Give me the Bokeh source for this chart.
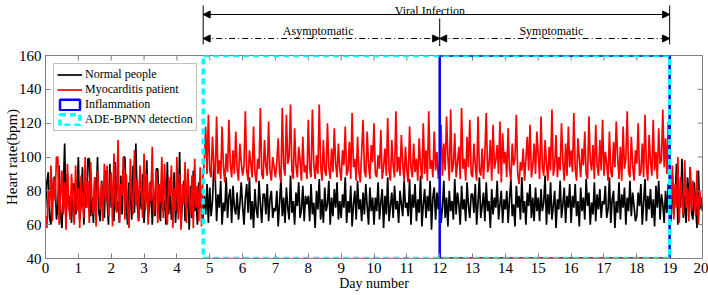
import numpy as np
from bokeh.plotting import figure
from bokeh.layouts import column
from bokeh.models import Range1d, FixedTicker, Arrow, NormalHead
from bokeh.embed import file_html
from bokeh.resources import INLINE
from bokeh.core.properties import value

# ---------------- data (hourly heart rate, bpm) ----------------
SAMPLES_PER_DAY = 24

normal_hr = [
    70, 85, 91, 64, 60, 78, 88, 88, 63, 70, 95, 66, 58, 80, 108, 62, 90, 69, 77, 61, 84, 84, 66, 72,
    100, 63, 72, 94, 60, 81, 70, 99, 99, 65, 76, 61, 88, 73, 100, 67, 62, 86, 71, 64, 92, 75, 60, 96,
    70, 83, 62, 97, 68, 74, 61, 89, 66, 100, 100, 72, 60, 85, 78, 63, 95, 67, 108, 73, 62, 80, 69, 90,
    61, 76, 98, 64, 71, 86, 60, 79, 65, 93, 93, 70, 62, 88, 68, 75, 60, 97, 66, 82, 63, 72, 91, 61,
    78, 67, 103, 59, 74, 86, 62, 71, 80, 57, 83, 64, 92, 68, 75, 60, 85, 70, 82, 63, 77, 66, 84, 61,
    82, 65, 74, 95, 88, 62, 78, 70, 86, 60, 73, 68, 88, 64, 77, 81, 61, 83, 70, 66, 79, 63, 72, 85,
    71, 60, 76, 84, 67, 88, 63, 74, 58, 81, 69, 64, 86, 72, 61, 78, 78, 66, 84, 62, 75, 80, 64, 70,
    68, 80, 59, 73, 87, 65, 76, 61, 82, 70, 63, 89, 67, 74, 60, 79, 71, 85, 64, 69, 83, 62, 77, 72,
    77, 62, 84, 66, 73, 58, 80, 69, 87, 63, 75, 61, 82, 68, 72, 86, 60, 76, 65, 81, 70, 85, 63, 74,
    64, 78, 70, 88, 61, 74, 67, 83, 59, 72, 80, 63, 86, 69, 75, 62, 79, 66, 84, 71, 60, 82, 68, 76,
    60, 76, 68, 85, 63, 73, 81, 58, 77, 66, 88, 62, 71, 79, 64, 83, 69, 74, 61, 80, 72, 65, 86, 70,
    73, 65, 87, 60, 78, 70, 84, 62, 75, 67, 89, 59, 72, 81, 64, 77, 68, 86, 57, 76, 82, 63, 79, 69,
    82, 61, 70, 86, 64, 76, 59, 80, 68, 74, 63, 87, 66, 79, 72, 60, 83, 69, 75, 62, 85, 71, 64, 78,
    78, 67, 84, 60, 73, 88, 64, 71, 79, 62, 85, 68, 74, 58, 81, 66, 76, 70, 86, 63, 72, 80, 61, 75,
    69, 80, 61, 75, 87, 65, 72, 59, 83, 70, 77, 63, 88, 67, 74, 60, 79, 71, 84, 64, 76, 62, 82, 68,
    76, 62, 81, 68, 73, 89, 60, 78, 66, 85, 63, 71, 80, 58, 75, 69, 86, 64, 72, 82, 61, 77, 70, 84,
    61, 77, 70, 84, 65, 74, 59, 82, 68, 76, 63, 87, 71, 79, 60, 73, 66, 85, 62, 78, 69, 81, 64, 74,
    72, 83, 64, 69, 88, 61, 75, 80, 58, 74, 67, 85, 63, 78, 70, 82, 60, 76, 68, 86, 65, 79, 71, 62,
    65, 79, 71, 84, 60, 73, 87, 62, 77, 69, 81, 64, 75, 59, 83, 70, 86, 63, 78, 72, 61, 80, 67, 84,
    84, 62, 90, 66, 75, 96, 60, 80, 70, 99, 64, 77, 61, 88, 73, 94, 67, 63, 85, 70, 58, 92, 69, 76,
    68,
]

patient_hr = [
    65, 58, 80, 70, 95, 62, 88, 74, 100, 100, 60, 77, 92, 66, 85, 57, 96, 71, 63, 90, 76, 60, 95, 68,
    82, 58, 89, 75, 64, 100, 70, 86, 61, 97, 73, 66, 88, 59, 92, 78, 69, 85, 62, 96, 74, 95, 65, 80,
    91, 59, 102, 72, 67, 110, 61, 84, 77, 100, 63, 90, 70, 58, 99, 76, 66, 104, 71, 87, 62, 95, 80, 64,
    102, 69, 90, 60, 85, 74, 106, 66, 79, 92, 61, 84, 73, 100, 64, 96, 70, 60, 88, 77, 95, 58, 82, 68,
    100, 63, 90, 57, 84, 72, 97, 61, 93, 75, 66, 89, 58, 99, 70, 83, 62, 94, 59, 88, 97, 118, 90, 125,
    92, 88, 112, 95, 86, 124, 90, 98, 87, 118, 94, 85, 102, 91, 122, 96, 88, 104, 90, 115, 93, 86, 108, 97,
    89, 95, 127, 92, 86, 104, 96, 88, 118, 91, 85, 99, 93, 129, 90, 87, 110, 95, 89, 121, 92, 86, 100, 94,
    88, 97, 111, 90, 85, 129, 94, 89, 125, 96, 100, 131, 92, 87, 117, 95, 88, 106, 98, 86, 112, 91, 95, 87,
    122, 93, 88, 128, 96, 87, 101, 90, 131, 95, 86, 110, 92, 89, 120, 94, 87, 105, 91, 117, 96, 88, 108, 93,
    86, 104, 95, 118, 89, 92, 109, 87, 126, 94, 99, 86, 112, 91, 85, 103, 122, 92, 88, 115, 96, 87, 107, 97,
    120, 90, 88, 101, 93, 116, 87, 94, 105, 89, 123, 92, 86, 110, 95, 88, 127, 91, 100, 89, 113, 96, 86, 106,
    92, 85, 118, 94, 88, 108, 91, 99, 86, 111, 95, 87, 120, 90, 104, 86, 127, 93, 98, 88, 115, 92, 103, 87,
    96, 119, 89, 108, 92, 124, 100, 86, 128, 91, 95, 114, 88, 97, 106, 87, 129, 93, 99, 86, 112, 94, 122, 90,
    88, 108, 95, 86, 124, 92, 89, 105, 87, 102, 126, 91, 95, 110, 86, 119, 93, 98, 107, 90, 121, 85, 114, 96,
    103, 88, 117, 93, 86, 108, 95, 99, 125, 90, 84, 97, 92, 105, 86, 99, 112, 92, 119, 88, 95, 108, 90, 115,
    101, 87, 124, 94, 89, 110, 96, 86, 106, 92, 128, 89, 95, 113, 88, 100, 92, 120, 97, 86, 108, 89, 118, 94,
    104, 91, 126, 93, 86, 111, 99, 88, 105, 95, 115, 90, 87, 124, 98, 92, 107, 87, 119, 95, 89, 110, 92, 122,
    89, 103, 96, 86, 115, 91, 88, 109, 94, 121, 100, 87, 106, 86, 118, 93, 99, 127, 91, 88, 112, 95, 86, 104,
    96, 120, 89, 91, 108, 88, 125, 95, 86, 113, 97, 89, 122, 92, 103, 87, 117, 96, 98, 128, 94, 111, 90, 121,
    90, 72, 95, 63, 84, 70, 100, 61, 88, 76, 66, 98, 70, 82, 62, 94, 68, 86, 74, 65, 92, 60, 80, 71,
    72,
]

day_ticks = list(range(0, 21))
hr_ticks = [40, 60, 80, 100, 120, 140, 160]
day_min, day_max = 0, 20
hr_min, hr_max = 40, 160

detection_start = 4.8
inflammation_start = 12
inflammation_end = 19

infection_label = "Viral Infection"
phase_labels = ["Asymptomatic", "Symptomatic"]
series_labels = ["Normal people", "Myocarditis patient"]
box_labels = ["Inflammation", "ADE-BPNN detection"]

normal_days = np.arange(len(normal_hr)) / SAMPLES_PER_DAY
patient_days = np.arange(len(patient_hr)) / SAMPLES_PER_DAY

# ---------------- styling ----------------
FONT = "Liberation Serif"
GRAY = "#808080"
W = 708
LEFT = 42
RIGHT = 6
TOP_H = 46
MAIN_H = 295 - TOP_H

# ---------------- annotation strip (above the axes) ----------------
top = figure(width=W, height=TOP_H, x_range=Range1d(day_min, day_max),
             y_range=Range1d(0, TOP_H), x_axis_type=None, y_axis_type=None,
             output_backend="svg", toolbar_location=None,
             min_border_left=LEFT, min_border_right=RIGHT,
             min_border_top=0, min_border_bottom=0)
top.outline_line_color = None

top.segment(x0=[detection_start, inflammation_end], x1=[detection_start, inflammation_end],
            y0=[2, 2], y1=[41, 41], line_color="black", line_width=1)
top.segment(x0=[inflammation_start], x1=[inflammation_start],
            y0=[0], y1=[28], line_color="black", line_width=1)


def head():
    return NormalHead(size=7, fill_color="black", line_color="black", line_width=1)


top.add_layout(Arrow(start=head(), end=head(), x_start=detection_start, y_start=32,
                     x_end=inflammation_end, y_end=32, line_color="black", line_width=1))
top.add_layout(Arrow(start=head(), end=head(), x_start=detection_start, y_start=8,
                     x_end=inflammation_start, y_end=8, line_color="black",
                     line_width=1, line_dash="6 3 1 3"))
top.add_layout(Arrow(start=head(), end=head(), x_start=inflammation_start, y_start=8,
                     x_end=inflammation_end, y_end=8, line_color="black",
                     line_width=1, line_dash="6 3 1 3"))

top.text(x=[11.7], y=[36], text=[infection_label], text_font=value(FONT),
         text_font_size="12px", text_align="center", text_baseline="alphabetic",
         text_color="black")
top.text(x=[8.3, 15.4], y=[16, 16], text=phase_labels, text_font=value(FONT),
         text_font_size="12px", text_align="center", text_baseline="alphabetic",
         text_color="black")

# ---------------- main axes ----------------
p = figure(width=W, height=MAIN_H, x_range=Range1d(day_min, day_max),
           y_range=Range1d(hr_min, hr_max), output_backend="svg",
           toolbar_location=None, min_border_left=LEFT, min_border_right=RIGHT,
           min_border_top=9, min_border_bottom=37)

p.line(normal_days, normal_hr, line_color="black", line_width=1.7,
       legend_label=series_labels[0])
p.line(patient_days, patient_hr, line_color="red", line_width=1.7,
       legend_label=series_labels[1])

# inner ticks on the top and right edges (boxed axes)
p.segment(x0=day_ticks, x1=day_ticks, y0=[hr_max] * len(day_ticks),
          y1=[hr_max - 3] * len(day_ticks), line_color=GRAY, line_width=1)
p.segment(x0=[day_max - 0.15] * len(hr_ticks), x1=[day_max] * len(hr_ticks),
          y0=hr_ticks, y1=hr_ticks, line_color=GRAY, line_width=1)

p.quad(left=[inflammation_start], right=[inflammation_end], bottom=[hr_min], top=[hr_max],
       fill_color=None, line_color="blue", line_width=2.5, legend_label=box_labels[0])
p.quad(left=[detection_start], right=[inflammation_end], bottom=[hr_min], top=[hr_max],
       fill_color=None, line_color="cyan", line_width=3.5, line_dash="6 4",
       legend_label=box_labels[1])

p.outline_line_color = GRAY
p.grid.visible = False
p.xaxis.ticker = FixedTicker(ticks=day_ticks)
p.yaxis.ticker = FixedTicker(ticks=hr_ticks)
p.xaxis.axis_label = "Day number"
p.yaxis.axis_label = "Heart rate(bpm)"
for ax in (p.xaxis[0], p.yaxis[0]):
    ax.major_tick_in = 5
    ax.major_tick_out = 0
    ax.minor_tick_line_color = None
    ax.axis_line_color = GRAY
    ax.major_tick_line_color = GRAY
    ax.major_label_text_font = FONT
    ax.major_label_text_font_size = "15px"
    ax.major_label_text_color = "black"
    ax.axis_label_text_font = FONT
    ax.axis_label_text_font_style = "normal"
    ax.axis_label_text_color = "black"
p.xaxis.major_label_standoff = 4
p.xaxis.axis_label_standoff = 0
p.xaxis.axis_label_text_font_size = "14px"
p.yaxis.major_label_standoff = 4
p.yaxis.axis_label_standoff = -4
p.yaxis.axis_label_text_font_size = "15px"

lg = p.legend[0]
lg.location = "top_left"
lg.margin = 8
lg.padding = 3
lg.spacing = 0
lg.glyph_width = 25
lg.glyph_height = 13
lg.label_height = 13
lg.label_standoff = 3
lg.label_text_font = FONT
lg.label_text_font_size = "12px"
lg.label_text_color = "black"
lg.border_line_color = GRAY
lg.border_line_width = 1
lg.background_fill_alpha = 1

layout = column(top, p, spacing=0)
open("out.html", "w").write(file_html(layout, INLINE))
